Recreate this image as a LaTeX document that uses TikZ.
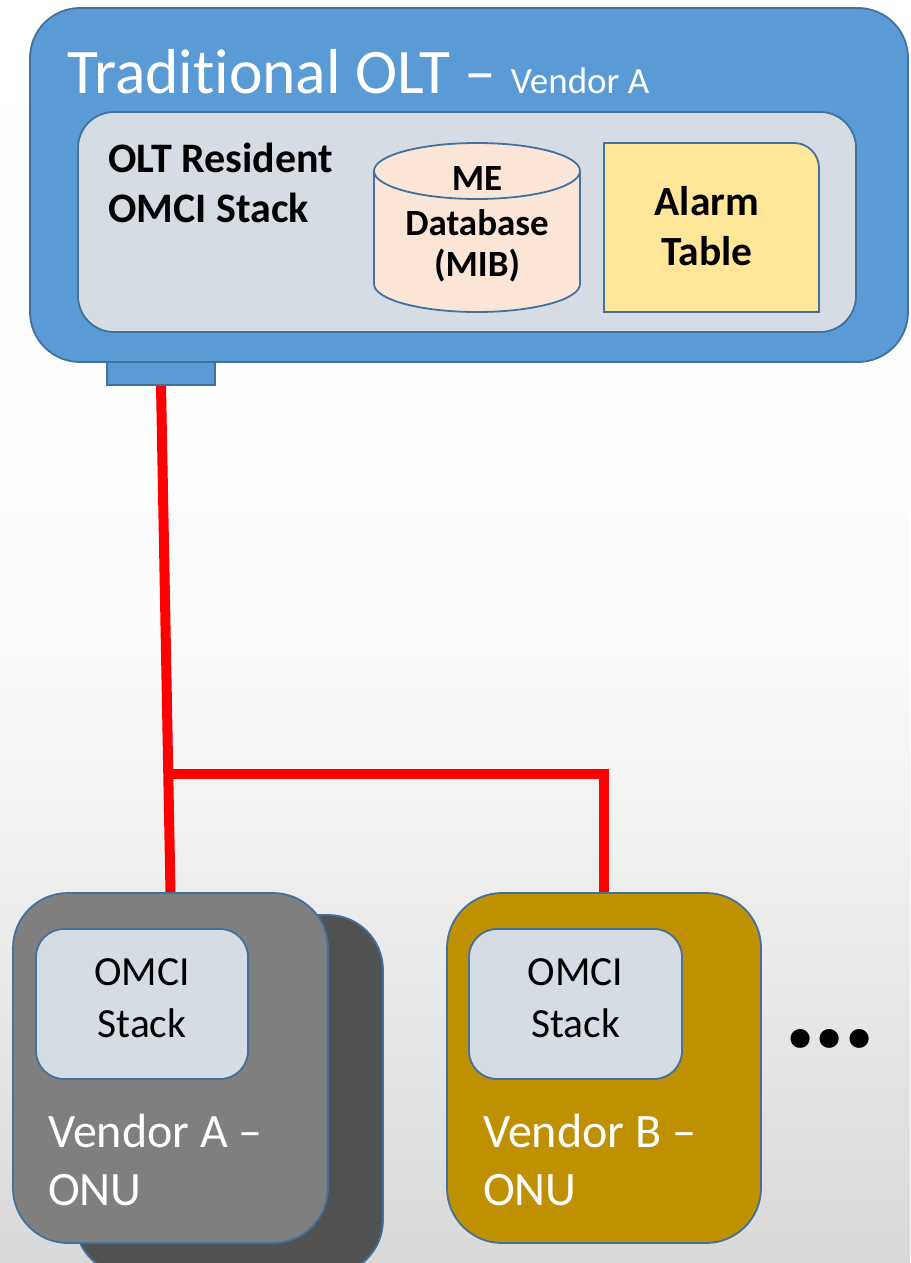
\documentclass[tikz,border=0pt]{standalone}
\usepackage{fontspec}
\setmainfont[Ligatures=NoCommon]{Carlito}
\usetikzlibrary{calc}
\definecolor{oltblue}{HTML}{5B9BD5}
\definecolor{edgeblue}{HTML}{41719C}
\definecolor{paleblue}{HTML}{D6DCE4}
\definecolor{mibfill}{HTML}{FBE5D6}
\definecolor{alarmfill}{HTML}{FFE699}
\definecolor{onugray}{HTML}{7F7F7F}
\definecolor{onudark}{HTML}{525252}
\definecolor{onugold}{HTML}{BF9000}
\definecolor{bggray}{HTML}{D9D9D9}
\definecolor{fiberred}{HTML}{FF0000}
\pgfdeclarelayer{bg}
\pgfdeclarelayer{wire}
\pgfsetlayers{bg,wire,main}
\begin{document}
\begin{tikzpicture}[x=1pt,y=-1pt,
  box/.style={draw=edgeblue, line width=1.8pt, anchor=north west, inner sep=0pt, outer sep=0pt},
  fiber/.style={draw=fiberred, line width=10pt},
  bigtxt/.style={anchor=base west, text=white, inner sep=0pt},
  lbl/.style={anchor=base, inner sep=0pt}]
\clip (0,0) rectangle (910,1263);
\begin{pgfonlayer}{bg}
\shade[top color=white, bottom color=bggray, middle color=white!92!bggray] (0,0) rectangle (910,1263);
\end{pgfonlayer}

% OLT
\node[box, fill=oltblue, minimum width=108pt, minimum height=23pt] (port) at (107,362) {};
\node[box, fill=oltblue, rounded corners=50pt, minimum width=878pt, minimum height=354pt] (olt) at (30,8) {};
\node[box, fill=paleblue, rounded corners=36pt, minimum width=778pt, minimum height=220pt] (inner) at (78,112) {};

\node[bigtxt, font=\fontsize{63.5}{63.5}\selectfont] (title) at (67,93) {Traditional OLT – {\fontsize{37}{37}\selectfont Vendor A}};
\node[anchor=base west, inner sep=0pt, font=\bfseries\fontsize{42}{42}\selectfont] (res1) at (108,172) {OLT Resident};
\node[anchor=base west, inner sep=0pt, font=\bfseries\fontsize{42}{42}\selectfont] (res2) at (108,222) {OMCI Stack};

% MIB cylinder
\draw[draw=edgeblue, line width=1.8pt, fill=mibfill]
  (374,171) -- (374,284) arc[start angle=180, end angle=360, x radius=103pt, y radius=28pt]
  -- (580,171) arc[start angle=0, end angle=180, x radius=103pt, y radius=28pt] -- cycle;
\draw[draw=edgeblue, line width=1.8pt]
  (374,171) arc[start angle=180, end angle=360, x radius=103pt, y radius=28pt];
\node[lbl, font=\bfseries\fontsize{37}{37}\selectfont] (mib1) at (477,190) {ME};
\node[lbl, font=\bfseries\fontsize{37}{37}\selectfont] (mib2) at (477,235) {Database};
\node[lbl, font=\bfseries\fontsize{37}{37}\selectfont] (mib3) at (477,276) {(MIB)};

% Alarm table
\draw[draw=edgeblue, line width=1.8pt, fill=alarmfill]
  (604,312) -- (604,143) -- (794,143) arc[start angle=90, end angle=0, radius=25pt] -- (819,312) -- cycle;
\node[lbl, font=\bfseries\fontsize{41.5}{41.5}\selectfont] (al1) at (707,215) {Alarm};
\node[lbl, font=\bfseries\fontsize{41.5}{41.5}\selectfont] (al2) at (707,265) {Table};

% ONUs
\node[box, fill=onudark, rounded corners=55pt, minimum width=308pt, minimum height=360pt] (onuAback) at (75,915) {};
\node[box, fill=onugray, rounded corners=55pt, minimum width=315pt, minimum height=350pt] (onuA) at (13,893) {};
\node[box, fill=paleblue, rounded corners=28pt, minimum width=212pt, minimum height=150pt] (stackA) at (36,929) {};
\node[box, fill=onugold, rounded corners=55pt, minimum width=314pt, minimum height=350pt] (onuB) at (447,893) {};
\node[box, fill=paleblue, rounded corners=28pt, minimum width=213pt, minimum height=150pt] (stackB) at (469,929) {};

\node[lbl, font=\fontsize{41.5}{41.5}\selectfont] (sA1) at (stackA.center |- 0,985) {OMCI};
\node[lbl, font=\fontsize{41.5}{41.5}\selectfont] (sA2) at (stackA.center |- 0,1037) {Stack};
\node[lbl, font=\fontsize{41.5}{41.5}\selectfont] (sB1) at (stackB.center |- 0,985) {OMCI};
\node[lbl, font=\fontsize{41.5}{41.5}\selectfont] (sB2) at (stackB.center |- 0,1037) {Stack};

\node[bigtxt, font=\fontsize{48}{48}\selectfont] (vA1) at (48,1147) {Vendor A –};
\node[bigtxt, font=\fontsize{48}{48}\selectfont] (vA2) at (48,1205) {ONU};
\node[bigtxt, font=\fontsize{48}{48}\selectfont] (vB1) at (483,1147) {Vendor B –};
\node[bigtxt, font=\fontsize{48}{48}\selectfont] (vB2) at (483,1205) {ONU};

\node[lbl, font=\bfseries\fontsize{128}{128}\selectfont] (dots) at (830,1047) {.\kern-5pt.\kern-5pt.};

% fiber
\coordinate (split) at ($(port.south)!0.766!(onuA.north)$);
\begin{pgfonlayer}{wire}
\draw[fiber] (port.south) -- (onuA.north);
\draw[fiber, line join=miter] (split) -| (onuB.north);
\end{pgfonlayer}
\end{tikzpicture}
\end{document}
